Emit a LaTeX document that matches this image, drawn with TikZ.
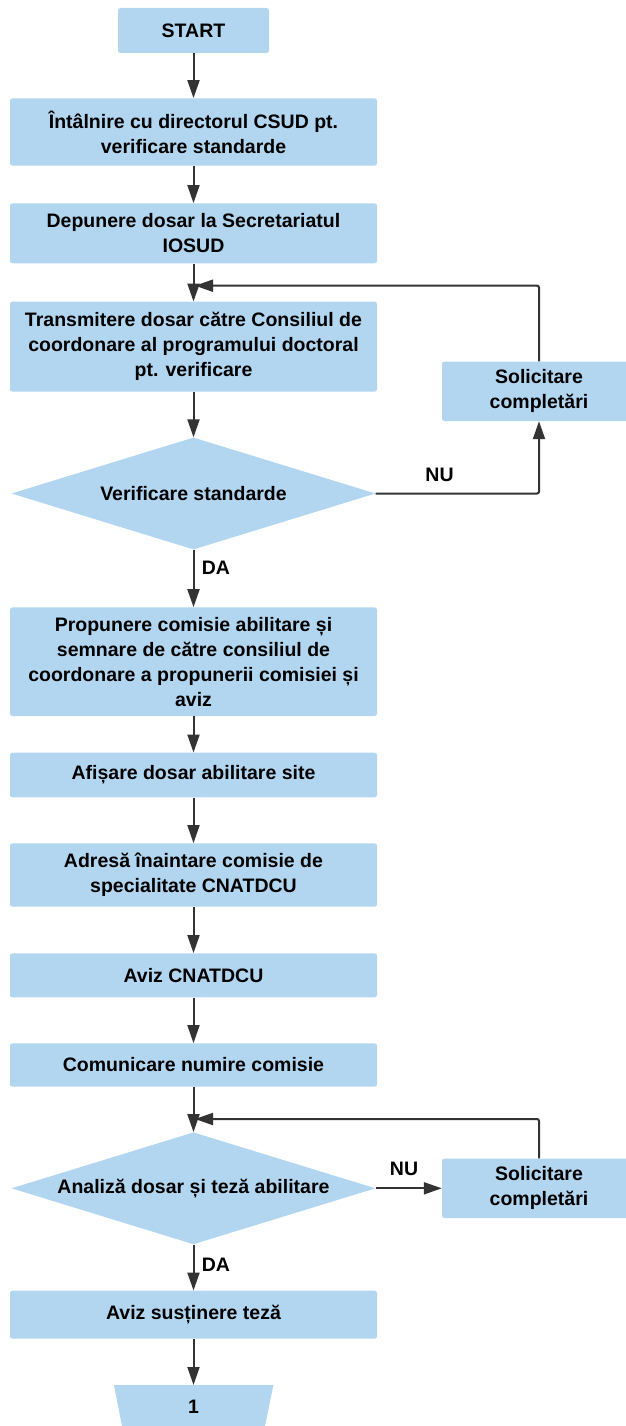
\documentclass[tikz,border=0pt]{standalone}
\usepackage{fontspec}
\setmainfont{Liberation Sans}
\usetikzlibrary{arrows.meta,shapes.geometric}
\definecolor{boxfill}{HTML}{B2D6F0}
\definecolor{linec}{HTML}{333333}
\begin{document}
\begin{tikzpicture}[x=1pt,y=-1pt,
  every node/.style={font=\fontsize{19.5pt}{25pt}\selectfont\bfseries, text=black, align=center},
  box/.style={fill=boxfill, rounded corners=2.5pt, minimum width=367pt, inner sep=0pt},
  sidebox/.style={fill=boxfill, rounded corners=2.5pt, minimum width=194pt, minimum height=59.4pt, inner sep=0pt},
  dec/.style={diamond, fill=boxfill, aspect=3.25, minimum width=364pt, minimum height=112pt, inner sep=0pt},
  arr/.style={draw=linec, line width=2pt, rounded corners=2pt, -{Triangle[length=18pt,width=12pt]}},
  lbl/.style={inner sep=0pt}
]
\useasboundingbox (0,0) rectangle (625,1426);
\node[box, minimum width=151pt, minimum height=45pt] (start) at (193.5,30.5) {START};
\node[box, minimum height=67.4pt] (int) at (193.5,132) {Întâlnire cu directorul CSUD pt.\\verificare standarde};
\node[box, minimum height=60pt] (dep) at (193.5,233.3) {Depunere dosar la Secretariatul\\IOSUD};
\node[box, minimum height=90pt] (trans) at (193.5,346.7) {Transmitere dosar către Consiliul de\\coordonare al programului doctoral\\pt. verificare};
\node[sidebox] (sol1) at (539,391.3) {Solicitare\\completări};
\node[dec] (d1) at (193.5,493.5) {Verificare standarde};
\node[box, minimum height=108.7pt] (prop) at (193.5,661.7) {Propunere comisie abilitare și\\semnare de către consiliul de\\coordonare a propunerii comisiei și\\aviz};
\node[box, minimum height=44.6pt] (afis) at (193.5,775) {Afișare dosar abilitare site};
\node[box, minimum height=63.4pt] (adr) at (193.5,875) {Adresă înaintare comisie de\\specialitate CNATDCU};
\node[box, minimum height=44pt] (aviz) at (193.5,975.3) {Aviz CNATDCU};
\node[box, minimum height=43.4pt] (com) at (193.5,1065) {Comunicare numire comisie};
\node[dec] (d2) at (193.5,1188.3) {Analiză dosar și teză abilitare};
\node[sidebox] (sol2) at (539,1188.3) {Solicitare\\completări};
\node[box, minimum height=48pt] (avs) at (193.5,1314.7) {Aviz susținere teză};
\fill[boxfill] (114,1385) -- (273.4,1385) -- (265,1426) -- (122,1426) -- cycle;
\coordinate (term) at (193.5,1385);
\node (one) at (193.5,1406.5) {1};
\coordinate (loop1) at (195,285.7);
\coordinate (loop2) at (195,1119);
\draw[arr] (start) -- (int);
\draw[arr] (int) -- (dep);
\draw[arr] (dep) -- (trans);
\draw[arr] (sol1.north) |- (loop1);
\draw[arr] (trans) -- (d1);
\draw[arr] (d1.east) -| (sol1.south);
\node[lbl] (nu1) at (439.5,474.5) {NU};
\draw[arr] (d1) -- (prop);
\node[lbl] (da1) at (216,568) {DA};
\draw[arr] (prop) -- (afis);
\draw[arr] (afis) -- (adr);
\draw[arr] (adr) -- (aviz);
\draw[arr] (aviz) -- (com);
\draw[arr] (com) -- (d2);
\draw[arr] (d2.east) -- (sol2.west);
\node[lbl] (nu2) at (404,1169) {NU};
\draw[arr] (sol2.north) |- (loop2);
\draw[arr] (d2) -- (avs);
\node[lbl] (da2) at (216,1265) {DA};
\draw[arr] (avs) -- (term);
\end{tikzpicture}
\end{document}
